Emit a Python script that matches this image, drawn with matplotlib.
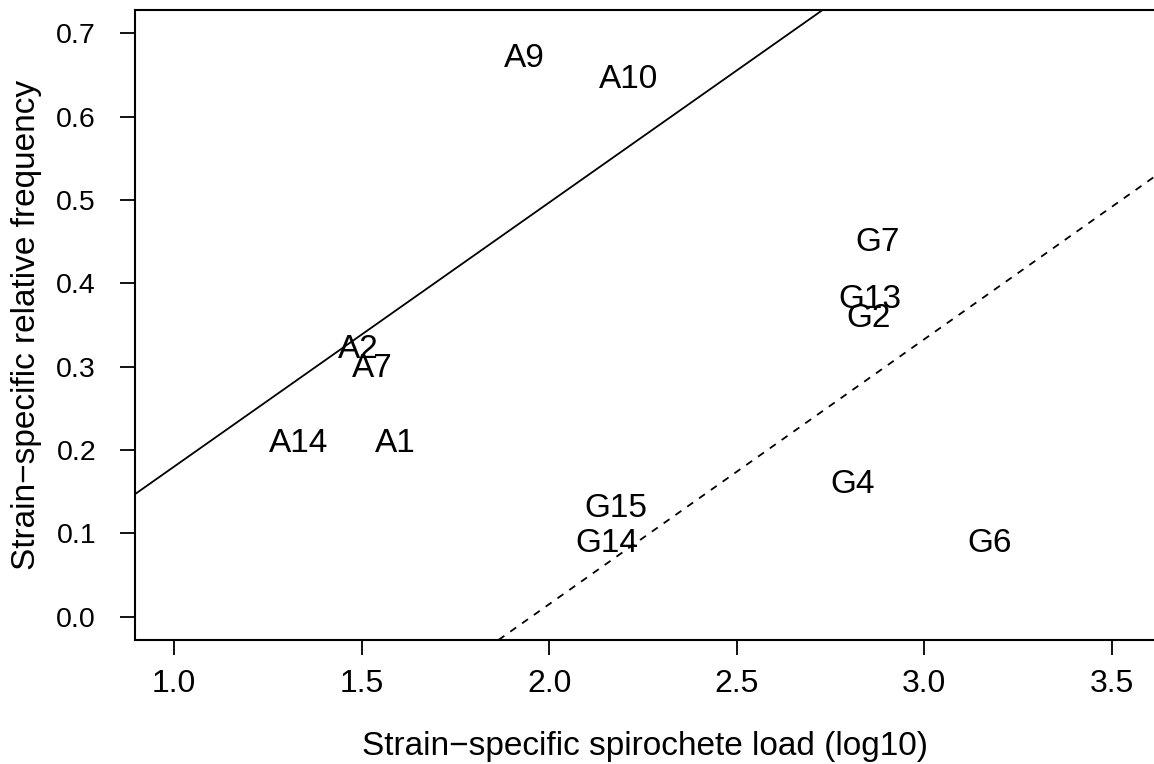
import matplotlib
matplotlib.use("Agg")
import matplotlib.pyplot as plt

# strain labels and their positions
strains = ["A9", "A10", "A2", "A7", "A14", "A1", "G15", "G14",
           "G7", "G13", "G2", "G4", "G6"]
load_log10 = [1.933, 2.211, 1.491, 1.528, 1.331, 1.589, 2.179, 2.155,
              2.875, 2.856, 2.851, 2.808, 3.173]
rel_freq = [0.670, 0.644, 0.320, 0.298, 0.208, 0.208, 0.130, 0.088,
            0.449, 0.381, 0.358, 0.159, 0.088]

# fitted lines: (intercept, slope)
line_solid = (-0.137, 0.317)
line_dashed = (-0.621, 0.318)

x_ticks = [1.0, 1.5, 2.0, 2.5, 3.0, 3.5]
y_ticks = [0.0, 0.1, 0.2, 0.3, 0.4, 0.5, 0.6, 0.7]

plt.rcParams["font.family"] = ["Liberation Sans", "DejaVu Sans"]

fig = plt.figure(figsize=(11.54, 7.64), dpi=100)
W, H = 1154, 764
ax = fig.add_axes([135 / W, 1 - 640 / H, 1 - 135 / W, 630 / H])

for name, x, y in zip(strains, load_log10, rel_freq):
    ax.text(x, y, name, ha="center", va="center", fontsize=24)

b, m = line_solid
ax.axline((0, b), slope=m, color="black", lw=1.3)
b, m = line_dashed
ax.axline((0, b), slope=m, color="black", lw=1.3, ls=(0, (4, 4)))

ax.set_xlim(0.896, 3.612)
ax.set_ylim(-0.028, 0.728)
ax.set_xticks(x_ticks)
ax.set_yticks(y_ticks)
ax.set_xticklabels([f"{v:.1f}" for v in x_ticks])
ax.set_yticklabels([f"{v:.1f}" for v in y_ticks])
ax.tick_params(length=11, width=1.3)
ax.tick_params(axis="x", labelsize=23, pad=10)
ax.tick_params(axis="y", labelsize=20.5, pad=17)
ax.spines["right"].set_visible(False)
for s in ["left", "top", "bottom"]:
    ax.spines[s].set_linewidth(1.5)

ax.set_xlabel("Strain\u2212specific spirochete load (log10)", fontsize=24, labelpad=23)
ax.set_ylabel("Strain\u2212specific relative frequency", fontsize=24, labelpad=10)

fig.savefig("out.png", dpi=100)
